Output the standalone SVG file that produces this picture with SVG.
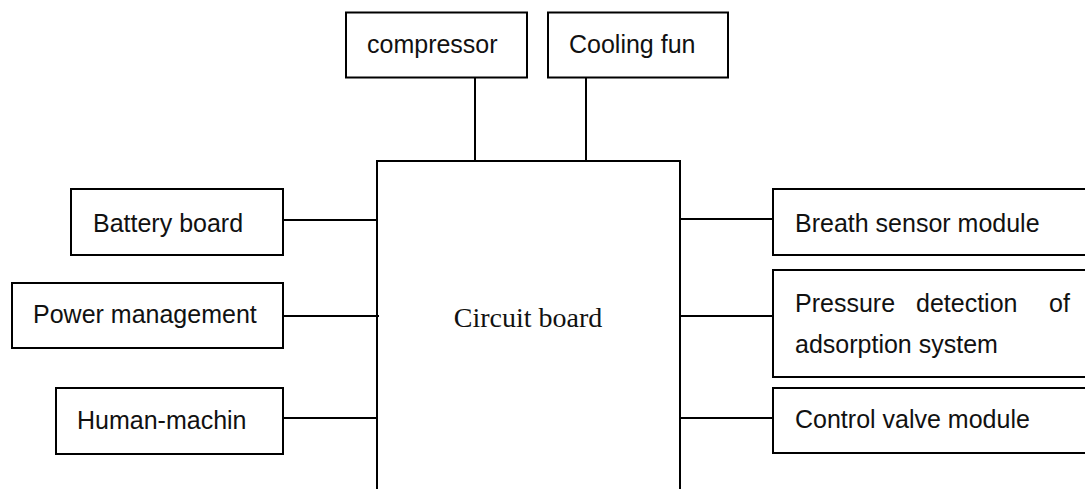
<svg xmlns="http://www.w3.org/2000/svg" width="1085" height="489" viewBox="0 0 1085 489">
<style>
.box{fill:#fff;stroke:#000;stroke-width:2}
.ln{stroke:#000;stroke-width:2;fill:none}
.t{font-family:"Liberation Sans",Arial,sans-serif;font-size:25px;fill:#111}
.s{font-family:"Liberation Serif","Times New Roman",serif;font-size:28px;fill:#111}
</style>
<rect width="1085" height="489" fill="#fff"/>
<g id="connectors">
<path class="ln" d="M475,78V161"/>
<path class="ln" d="M586,78V161"/>
<path class="ln" d="M283,220H377"/>
<path class="ln" d="M283,316H379"/>
<path class="ln" d="M283,418H377"/>
<path class="ln" d="M680,219H773"/>
<path class="ln" d="M680,316H773"/>
<path class="ln" d="M680,418H773"/>
</g>
<g id="circuit-board">
<path class="ln" d="M377,489V161H680V489"/>
<text class="s" x="528" y="327" text-anchor="middle">Circuit board</text>
</g>
<g id="compressor">
<rect class="box" x="346" y="12.5" width="181" height="65"/>
<text class="t" x="367" y="53">compressor</text>
</g>
<g id="cooling-fun">
<rect class="box" x="548" y="12.5" width="180" height="65"/>
<text class="t" x="569" y="53">Cooling fun</text>
</g>
<g id="battery-board">
<rect class="box" x="71" y="189" width="212" height="66"/>
<text class="t" x="93" y="232">Battery board</text>
</g>
<g id="power-management">
<rect class="box" x="12" y="283" width="271" height="65"/>
<text class="t" x="33" y="323">Power management</text>
</g>
<g id="human-machin">
<rect class="box" x="56" y="388" width="227" height="66"/>
<text class="t" x="77" y="429">Human-machin</text>
</g>
<g id="breath-sensor">
<rect class="box" x="773" y="189" width="400" height="66"/>
<text class="t" x="795" y="232">Breath sensor module</text>
</g>
<g id="pressure-detection">
<rect class="box" x="773" y="270" width="400" height="107"/>
<text class="t" y="312"><tspan x="795">Pressure</tspan><tspan x="916">detection</tspan><tspan x="1049">of</tspan></text>
<text class="t" x="795" y="353">adsorption system</text>
</g>
<g id="control-valve">
<rect class="box" x="773" y="388" width="400" height="65"/>
<text class="t" x="795" y="428">Control valve module</text>
</g>
</svg>
